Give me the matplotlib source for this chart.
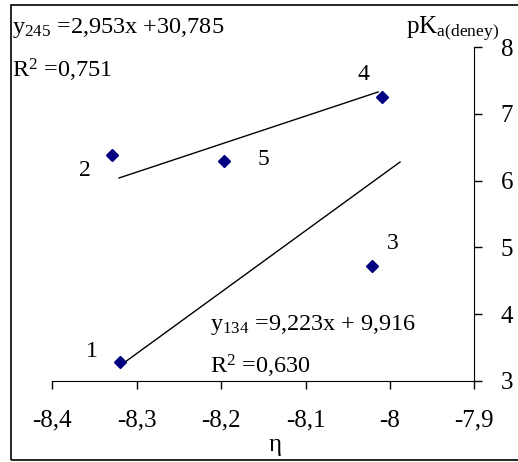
import matplotlib
matplotlib.use('Agg')
import matplotlib.pyplot as plt
from matplotlib.patches import Rectangle
from matplotlib.ticker import FuncFormatter

plt.rcParams['font.family'] = 'Liberation Serif'
plt.rcParams['mathtext.fontset'] = 'custom'
plt.rcParams['mathtext.rm'] = 'Liberation Serif'
plt.rcParams['mathtext.it'] = 'Liberation Serif:italic'

# data
eta = [-8.320, -8.329, -8.021, -8.009, -8.196]
pka = [3.28, 6.39, 4.72, 7.26, 6.30]
point_names = ['1', '2', '3', '4', '5']
label_offsets = [(-28, 11), (-27, -16), (21, 23), (-19, 22), (39, 1)]

line245_x = [-8.321, -8.014]
line245_y = [6.04, 7.33]
line134_x = [-8.316, -7.988]
line134_y = [3.26, 6.28]

xticks = [-8.4, -8.3, -8.2, -8.1, -8.0, -7.9]
yticks = [3, 4, 5, 6, 7, 8]

fig = plt.figure(figsize=(5.18, 4.62), dpi=100)
ax = fig.add_axes([0.101, 0.176, 0.8147, 0.7216])

ax.plot(line245_x, line245_y, color='black', lw=1.0)
ax.plot(line134_x, line134_y, color='black', lw=1.0)
ax.plot(eta, pka, 'D', color='#000080', markersize=6.5, ls='none')

for x, y, name, off in zip(eta, pka, point_names, label_offsets):
    ax.annotate(name, (x, y), xytext=off, textcoords='offset pixels',
                ha='center', va='center', fontsize=17)

ax.set_xlim(-8.4, -7.9)
ax.set_ylim(3, 8)
ax.set_xticks(xticks)
ax.set_yticks(yticks)
comma = FuncFormatter(lambda v, p: ('%g' % round(v, 2)).replace('.', ','))
ax.xaxis.set_major_formatter(comma)
ax.yaxis.set_major_formatter(comma)

ax.spines['top'].set_visible(False)
ax.spines['left'].set_visible(False)
ax.yaxis.tick_right()
ax.tick_params(axis='both', direction='out', length=6, width=1.0, labelsize=18)
ax.tick_params(axis='x', pad=15)
ax.tick_params(axis='y', pad=13)

ax.set_xlabel(u'η', fontsize=18)
ax.xaxis.set_label_coords(0.528, -0.16)

fig.text(406 / 518, 1 - 33 / 462, r'pK$_{\mathrm{a(deney)}}$', fontsize=18, va='baseline', ha='left')

fig.text(12 / 518, 1 - 33 / 462, r'y$_{\mathrm{245}}$ =2,953x +30,785', fontsize=17.5, va='baseline')
fig.text(12 / 518, 1 - 77 / 462, r'R$^{2}$ =0,751', fontsize=17.5, va='baseline')
fig.text(210 / 518, 1 - 330 / 462, r'y$_{\mathrm{134}}$ =9,223x + 9,916', fontsize=17.5, va='baseline')
fig.text(210 / 518, 1 - 374 / 462, r'R$^{2}$ =0,630', fontsize=17.5, va='baseline')

fig.add_artist(Rectangle((11 / 518, 2 / 462), 1.0, 455 / 462, transform=fig.transFigure,
                         fill=False, edgecolor='black', lw=1.2))

fig.savefig('out.png', dpi=100)
